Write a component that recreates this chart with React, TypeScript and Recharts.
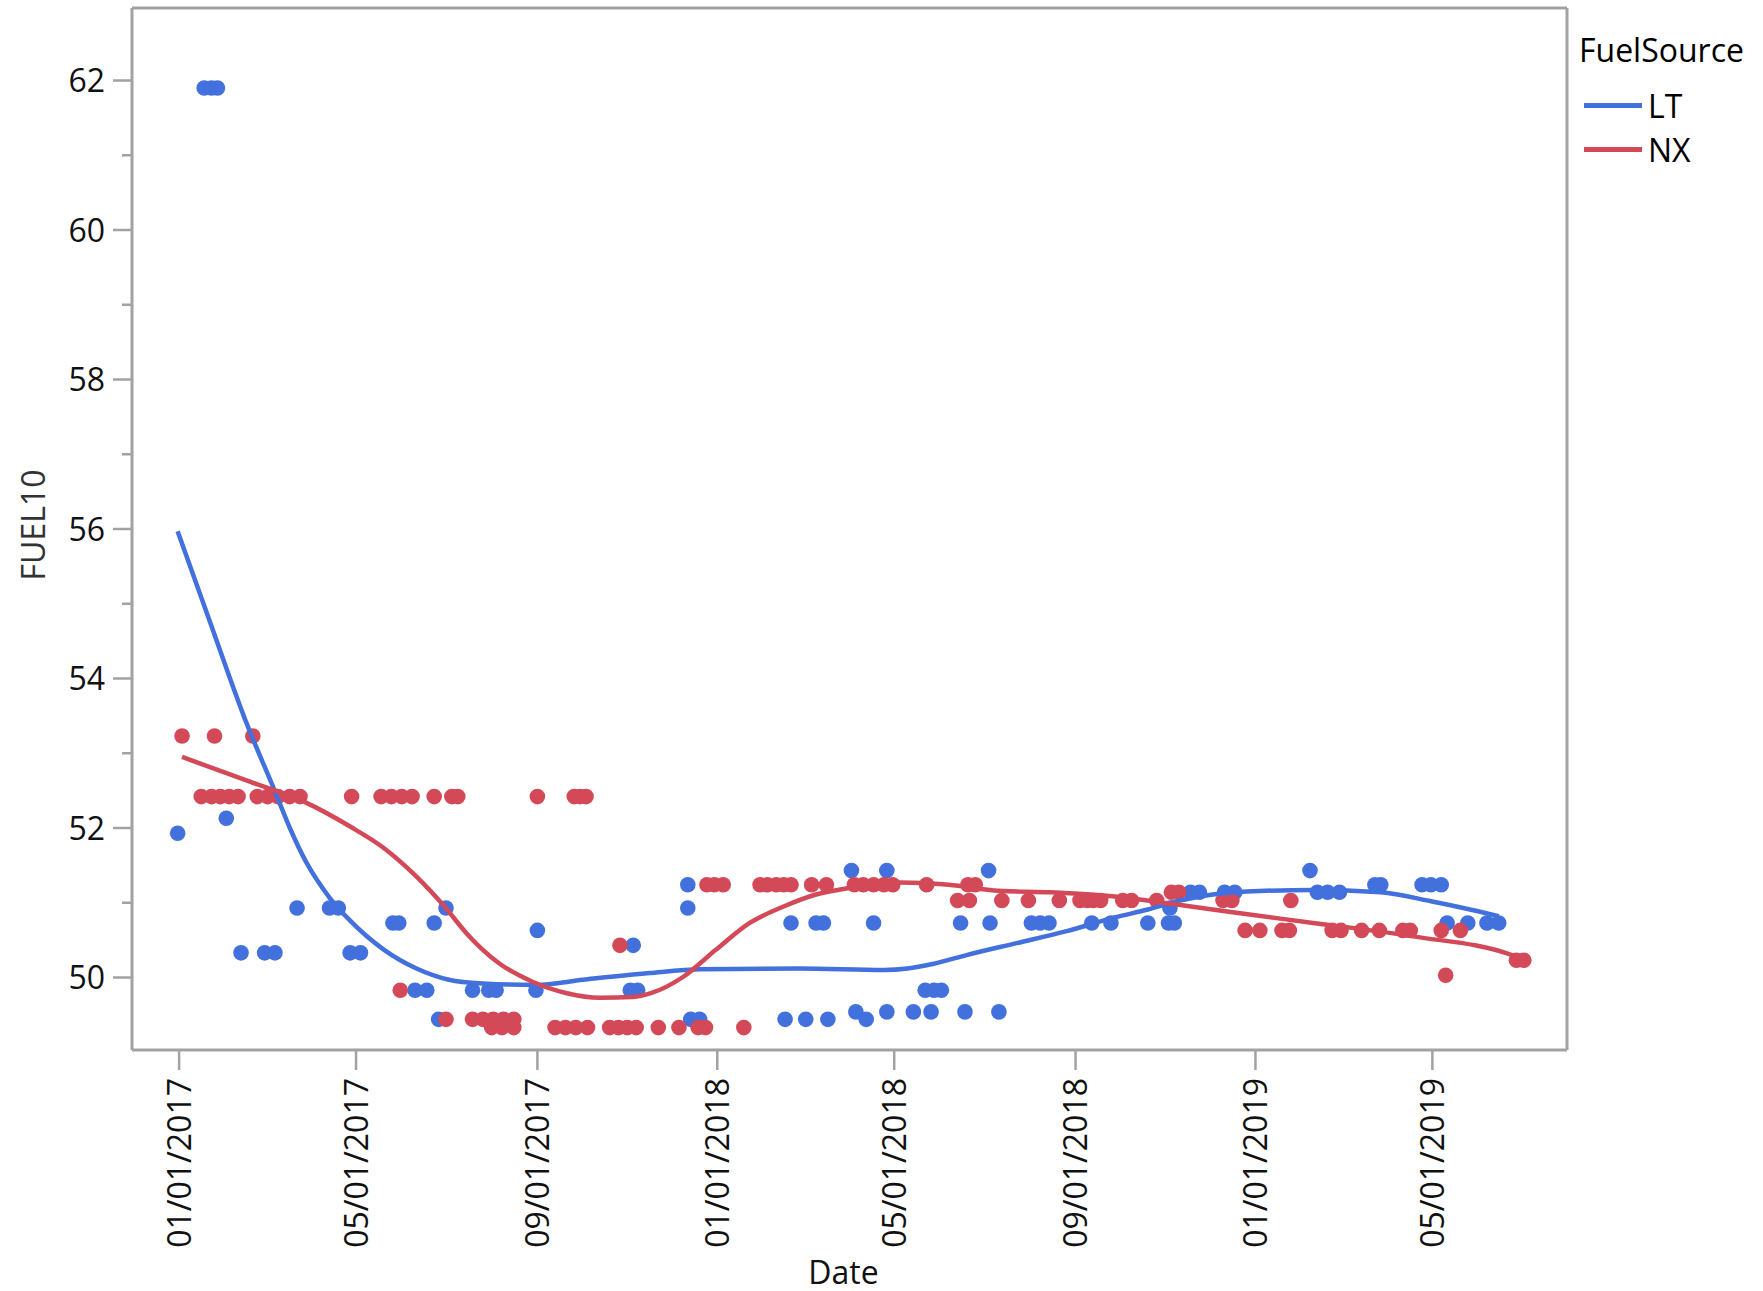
import React from 'react';
import { ScatterChart, Scatter, XAxis, YAxis, Legend, Label, ReferenceLine } from 'recharts';

// ---------- data ----------
const LT_DATES = [
  '2016-12-31', '2017-01-18', '2017-01-23', '2017-01-27', '2017-02-02', '2017-02-12', '2017-02-28', '2017-03-07',
  '2017-03-22', '2017-04-13', '2017-04-19', '2017-04-27', '2017-05-04', '2017-05-26', '2017-05-30', '2017-06-10',
  '2017-06-18', '2017-06-23', '2017-06-26', '2017-07-01', '2017-07-19', '2017-07-30', '2017-08-04', '2017-08-31',
  '2017-09-01', '2017-11-03', '2017-11-05', '2017-11-08', '2017-12-12', '2017-12-12', '2017-12-14', '2017-12-20',
  '2018-02-16', '2018-02-20', '2018-03-02', '2018-03-09', '2018-03-14', '2018-03-17', '2018-04-02', '2018-04-05',
  '2018-04-12', '2018-04-17', '2018-04-26', '2018-04-26', '2018-05-14', '2018-05-22', '2018-05-26', '2018-05-28',
  '2018-06-02', '2018-06-15', '2018-06-18', '2018-07-04', '2018-07-05', '2018-07-11', '2018-08-02', '2018-08-08',
  '2018-08-14', '2018-09-12', '2018-09-25', '2018-10-20', '2018-11-03', '2018-11-04', '2018-11-07', '2018-11-18',
  '2018-11-24', '2018-12-11', '2018-12-18', '2019-02-07', '2019-02-12', '2019-02-19', '2019-02-27', '2019-03-23',
  '2019-03-27', '2019-04-24', '2019-04-30', '2019-05-07', '2019-05-11', '2019-05-25', '2019-06-07', '2019-06-15',
];
const LT_VALUES = [
  51.93, 61.9, 61.9, 61.9, 52.13, 50.33, 50.33, 50.33,
  50.93, 50.93, 50.93, 50.33, 50.33, 50.73, 50.73, 49.83,
  49.83, 50.73, 49.44, 50.93, 49.83, 49.83, 49.83, 49.83,
  50.63, 49.83, 50.43, 49.83, 51.24, 50.93, 49.44, 49.44,
  49.44, 50.73, 49.44, 50.73, 50.73, 49.44, 51.43, 49.54,
  49.44, 50.73, 51.43, 49.54, 49.54, 49.83, 49.54, 49.83,
  49.83, 50.73, 49.54, 51.43, 50.73, 49.54, 50.73, 50.73,
  50.73, 50.73, 50.73, 50.73, 50.73, 50.93, 50.73, 51.14,
  51.14, 51.14, 51.14, 51.43, 51.14, 51.14, 51.14, 51.24,
  51.24, 51.24, 51.24, 51.24, 50.73, 50.73, 50.73, 50.73,
];

const NX_DATES = [
  '2017-01-03', '2017-01-16', '2017-01-23', '2017-01-25', '2017-01-29', '2017-02-04', '2017-02-10', '2017-02-20',
  '2017-02-23', '2017-03-02', '2017-03-09', '2017-03-17', '2017-03-24', '2017-04-28', '2017-05-18', '2017-05-25',
  '2017-05-31', '2017-06-01', '2017-06-08', '2017-06-23', '2017-07-01', '2017-07-05', '2017-07-09', '2017-07-19',
  '2017-07-26', '2017-08-01', '2017-08-02', '2017-08-08', '2017-08-09', '2017-08-16', '2017-08-16', '2017-09-01',
  '2017-09-13', '2017-09-20', '2017-09-26', '2017-09-27', '2017-09-30', '2017-10-04', '2017-10-05', '2017-10-20',
  '2017-10-26', '2017-10-27', '2017-11-01', '2017-11-07', '2017-11-22', '2017-12-06', '2017-12-19', '2017-12-24',
  '2017-12-25', '2017-12-30', '2018-01-05', '2018-01-19', '2018-01-30', '2018-02-04', '2018-02-10', '2018-02-15',
  '2018-02-20', '2018-03-06', '2018-03-16', '2018-04-04', '2018-04-10', '2018-04-17', '2018-04-24', '2018-04-30',
  '2018-05-23', '2018-06-13', '2018-06-20', '2018-06-21', '2018-06-25', '2018-07-13', '2018-07-31', '2018-08-21',
  '2018-09-04', '2018-09-09', '2018-09-13', '2018-09-18', '2018-10-03', '2018-10-09', '2018-10-26', '2018-11-05',
  '2018-11-10', '2018-12-10', '2018-12-16', '2018-12-25', '2019-01-04', '2019-01-19', '2019-01-24', '2019-01-25',
  '2019-02-22', '2019-02-28', '2019-03-14', '2019-03-26', '2019-04-11', '2019-04-16', '2019-05-07', '2019-05-10',
  '2019-05-20', '2019-06-27', '2019-07-02',
];
const NX_VALUES = [
  53.23, 52.42, 52.42, 53.23, 52.42, 52.42, 52.42, 53.23,
  52.42, 52.42, 52.42, 52.42, 52.42, 52.42, 52.42, 52.42,
  49.83, 52.42, 52.42, 52.42, 49.44, 52.42, 52.42, 49.44,
  49.44, 49.33, 49.44, 49.33, 49.44, 49.44, 49.33, 52.42,
  49.33, 49.33, 52.42, 49.33, 52.42, 52.42, 49.33, 49.33,
  49.33, 50.43, 49.33, 49.33, 49.33, 49.33, 49.33, 49.33,
  51.24, 51.24, 51.24, 49.33, 51.24, 51.24, 51.24, 51.24,
  51.24, 51.24, 51.24, 51.24, 51.24, 51.24, 51.24, 51.24,
  51.24, 51.03, 51.24, 51.03, 51.24, 51.03, 51.03, 51.03,
  51.03, 51.03, 51.03, 51.03, 51.03, 51.03, 51.03, 51.14,
  51.14, 51.03, 51.03, 50.63, 50.63, 50.63, 50.63, 51.03,
  50.63, 50.63, 50.63, 50.63, 50.63, 50.63, 50.63, 50.03,
  50.63, 50.23, 50.23,
];

// smoother curves
const LT_FIT_DATES = [
  '2016-12-31', '2017-01-21', '2017-02-15', '2017-03-07', '2017-03-18', '2017-03-28', '2017-04-05', '2017-04-13',
  '2017-04-27', '2017-05-20', '2017-06-11', '2017-07-03', '2017-07-26', '2017-08-31', '2017-10-02', '2017-11-16',
  '2017-12-21', '2018-02-26', '2018-04-24', '2018-05-10', '2018-05-27', '2018-06-19', '2018-07-23', '2018-08-26',
  '2018-09-27', '2018-10-20', '2018-11-11', '2018-12-03', '2018-12-26', '2019-02-09', '2019-03-27', '2019-04-30',
  '2019-05-22', '2019-06-15',
];
const LT_FIT_VALUES = [
  55.97, 54.81, 53.44, 52.49, 51.96, 51.55, 51.29, 51.07,
  50.76, 50.37, 50.12, 49.97, 49.92, 49.9, 49.97, 50.06,
  50.11, 50.12, 50.1, 50.12, 50.18, 50.3, 50.46, 50.62,
  50.8, 50.91, 51.03, 51.11, 51.15, 51.17, 51.14, 51.02,
  50.93, 50.82,
];
const NX_FIT_DATES = [
  '2017-01-03', '2017-02-18', '2017-03-27', '2017-04-27', '2017-05-20', '2017-06-11', '2017-06-30', '2017-07-15',
  '2017-08-06', '2017-08-29', '2017-09-21', '2017-10-13', '2017-11-05', '2017-11-17', '2017-12-09', '2017-12-31',
  '2018-01-23', '2018-02-15', '2018-03-09', '2018-04-01', '2018-05-05', '2018-06-07', '2018-07-11', '2018-08-15',
  '2018-09-18', '2018-11-11', '2018-12-14', '2019-02-09', '2019-04-18', '2019-06-24', '2019-07-03',
];
const NX_FIT_VALUES = [
  52.95, 52.62, 52.35, 52.02, 51.73, 51.35, 50.95, 50.59,
  50.19, 49.94, 49.79, 49.73, 49.74, 49.79, 50.01, 50.37,
  50.73, 50.95, 51.11, 51.2, 51.27, 51.24, 51.16, 51.14,
  51.1, 50.97, 50.88, 50.73, 50.55, 50.3, 50.23,
];

const X_TICK_DATES = [
  '2017-01-01', '2017-05-01', '2017-09-01', '2018-01-01', '2018-05-01', '2018-09-01', '2019-01-01', '2019-05-01',
];
const Y_TICKS = [50, 51, 52, 53, 54, 55, 56, 57, 58, 59, 60, 61, 62];
const SERIES_NAMES = ['LT', 'NX'];

// ---------- helpers ----------
const toT = (d: string) => Date.parse(d + 'T00:00:00Z');
const zip = (ds: string[], vs: number[]) => ds.map((d, i) => ({ t: toT(d), v: vs[i] }));

const ltPoints = zip(LT_DATES, LT_VALUES);
const nxPoints = zip(NX_DATES, NX_VALUES);
const ltFit = zip(LT_FIT_DATES, LT_FIT_VALUES);
const nxFit = zip(NX_FIT_DATES, NX_FIT_VALUES);
const xTicks = X_TICK_DATES.map(toT);

const DAY = 86400000;
const T0 = Date.UTC(2017, 0, 1);
const X_DOMAIN: [number, number] = [T0 - 31.95 * DAY, T0 + 941.3 * DAY];
const Y_DOMAIN: [number, number] = [49.03, 62.97];

const BLUE = '#4270DD';
const RED = '#D44958';
const AXIS = '#A2A2A2';
const FONT = "'Open Sans', 'Noto Sans', sans-serif";
const FS = 32;

const Y_TICK_SIZE = 19;
const Y_TICK_MARGIN = 8;

const pad = (n: number) => String(n).padStart(2, '0');
const fmtDate = (t: number) => {
  const d = new Date(t);
  return `${pad(d.getUTCMonth() + 1)}/${pad(d.getUTCDate())}/${d.getUTCFullYear()}`;
};

const XTick = (props: any) => {
  const { x, y, payload } = props;
  return (
    <text
      x={x}
      y={y}
      transform={`rotate(-90 ${x} ${y})`}
      textAnchor="end"
      dy="0.36em"
      fontSize={FS}
      fontFamily={FONT}
      fill="#111"
    >
      {fmtDate(payload.value)}
    </text>
  );
};

const YTick = (props: any) => {
  const { x, y, payload } = props;
  const v = payload.value;
  const ax = x + Y_TICK_SIZE + Y_TICK_MARGIN;
  const major = Math.round(v) % 2 === 0;
  return (
    <g>
      <line x1={ax - (major ? 19 : 10)} x2={ax} y1={y} y2={y} stroke={AXIS} strokeWidth={2.5} />
      {major ? (
        <text x={x} y={y} dy="0.36em" textAnchor="end" fontSize={FS} fontFamily={FONT} fill="#111">
          {v}
        </text>
      ) : null}
    </g>
  );
};

const dot = (color: string) => (p: any) => <circle cx={p.cx} cy={p.cy} r={7.8} fill={color} />;
const noDot = () => <g />;

const LegendBox = () => {
  const colors = [BLUE, RED];
  return (
    <div style={{ fontFamily: FONT, fontSize: FS, color: '#000', lineHeight: '44px', whiteSpace: 'nowrap' }}>
      <div style={{ height: 44, marginBottom: 12 }}>FuelSource</div>
      {SERIES_NAMES.map((name, i) => (
        <div key={name} style={{ display: 'flex', alignItems: 'center', height: 44 }}>
          <span
            style={{
              display: 'inline-block',
              width: 58,
              height: 5.5,
              background: colors[i],
              marginLeft: 5,
              marginRight: 6,
            }}
          />
          <span>{name}</span>
        </div>
      ))}
    </div>
  );
};

export default function App() {
  return (
    <div style={{ position: 'absolute', left: 0, top: 0, background: '#fff' }}>
      <ScatterChart width={1763} height={1291} margin={{ top: 8, right: 196, bottom: 0, left: 0 }}>
        <XAxis
          dataKey="t"
          type="number"
          domain={X_DOMAIN}
          allowDataOverflow
          ticks={xTicks}
          interval={0}
          height={241}
          tickSize={20}
          tickMargin={8}
          tick={<XTick />}
          axisLine={{ stroke: AXIS, strokeWidth: 3 }}
          tickLine={{ stroke: AXIS, strokeWidth: 2.5 }}
        >
          <Label
            content={(p: any) => {
              const vb = p.viewBox;
              return (
                <text
                  x={vb.x + vb.width / 2 - 6}
                  y={vb.y + vb.height - 7.5}
                  textAnchor="middle"
                  fontSize={FS}
                  fontFamily={FONT}
                  fill="#111"
                >
                  Date
                </text>
              );
            }}
          />
        </XAxis>
        <YAxis
          dataKey="v"
          type="number"
          domain={Y_DOMAIN}
          allowDataOverflow
          ticks={Y_TICKS}
          interval={0}
          width={132}
          tickSize={Y_TICK_SIZE}
          tickMargin={Y_TICK_MARGIN}
          tick={<YTick />}
          tickLine={false}
          axisLine={{ stroke: AXIS, strokeWidth: 3 }}
        >
          <Label
            content={(p: any) => {
              const vb = p.viewBox;
              const cx = vb.x + 45;
              const cy = vb.y + vb.height / 2 - 4;
              return (
                <text
                  x={cx}
                  y={cy}
                  transform={`rotate(-90 ${cx} ${cy})`}
                  textAnchor="middle"
                  fontSize={FS}
                  fontFamily={FONT}
                  fill="#333"
                >
                  FUEL10
                </text>
              );
            }}
          />
        </YAxis>
        <ReferenceLine y={Y_DOMAIN[1]} stroke={AXIS} strokeWidth={3} ifOverflow="visible" />
        <ReferenceLine x={X_DOMAIN[1]} stroke={AXIS} strokeWidth={3} ifOverflow="visible" />
        <Legend
          layout="horizontal"
          verticalAlign="middle"
          align="center"
          wrapperStyle={{ left: 1579, top: 27.6, width: 184 }}
          content={() => <LegendBox />}
        />
        <Scatter name="LT" data={ltPoints} shape={dot(BLUE)} isAnimationActive={false} legendType="none" />
        <Scatter name="NX" data={nxPoints} shape={dot(RED)} isAnimationActive={false} legendType="none" />
        <Scatter
          name="LT fit"
          data={ltFit}
          shape={noDot}
          line={{ stroke: BLUE, strokeWidth: 4.5 }}
          lineJointType="monotoneX"
          isAnimationActive={false}
          legendType="none"
        />
        <Scatter
          name="NX fit"
          data={nxFit}
          shape={noDot}
          line={{ stroke: RED, strokeWidth: 4.5 }}
          lineJointType="monotoneX"
          isAnimationActive={false}
          legendType="none"
        />
      </ScatterChart>
    </div>
  );
}
